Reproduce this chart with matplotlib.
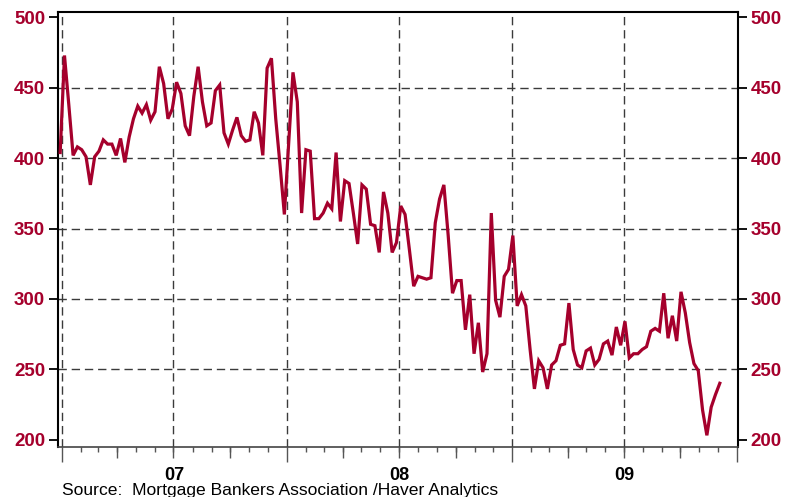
import pandas as pd
import matplotlib
matplotlib.use("Agg")
import matplotlib.pyplot as plt
import matplotlib.dates as mdates
from matplotlib.transforms import blended_transform_factory

# weekly index, Fridays from end of 2006
START_WEEK = "2006-12-29"
purchase_index = [
    404, 473, 438, 402, 408, 406, 401, 381, 401, 405,
    413, 410, 410, 402, 414, 397, 415, 428, 437, 432,
    438, 427, 433, 465, 453, 428, 435, 454, 446, 423,
    416, 444, 465, 440, 423, 425, 448, 452, 418, 410,
    420, 429, 416, 412, 413, 433, 425, 402, 464, 471,
    428, 395, 360, 410, 461, 440, 361, 406, 405, 357,
    357, 361, 368, 364, 404, 355, 384, 382, 361, 339,
    381, 378, 353, 352, 333, 376, 361, 333, 340, 366,
    360, 335, 309, 316, 315, 314, 315, 354, 371, 381,
    345, 304, 313, 313, 278, 303, 261, 283, 248, 261,
    361, 299, 287, 316, 321, 345, 295, 303, 295, 264,
    236, 256, 251, 236, 253, 256, 267, 268, 297, 264,
    253, 251, 263, 265, 253, 257, 268, 270, 260, 280,
    267, 284, 258, 261, 261, 264, 266, 277, 279, 277,
    304, 272, 288, 270, 305, 290, 269, 254, 249, 221,
    203, 223, 232, 240,
]

year_labels = ["07", "08", "09"]
year_label_dates = ["2007-07-02", "2008-07-01", "2009-07-02"]
y_ticks = [200, 250, 300, 350, 400, 450, 500]
grid_levels = [250, 300, 350, 400, 450]
grid_dates = ["2007-01-01", "2007-07-01", "2008-01-01",
              "2008-07-01", "2009-01-01", "2009-07-01"]
SOURCE = "Source:  Mortgage Bankers Association /Haver Analytics"

RED = "#a5002c"
GRID = "#3a3a3a"
FONT = "Liberation Sans"


def main():
    plt.rcParams["font.family"] = FONT
    dates = pd.date_range(START_WEEK, periods=len(purchase_index), freq="7D")

    fig = plt.figure(figsize=(7.85, 4.97), dpi=100)
    ax = fig.add_axes([0.0743, 0.1006, 0.8654, 0.8747])

    for level in grid_levels:
        ax.axhline(level, color=GRID, lw=1.0, dashes=(6, 3.5), zorder=1)
    for d in grid_dates:
        ax.axvline(pd.Timestamp(d), color=GRID, lw=1.0, dashes=(6, 3.5), zorder=1)

    ax.plot(dates, purchase_index, color=RED, lw=2.3, zorder=3,
            solid_joinstyle="miter")

    ax.set_xlim(pd.Timestamp("2006-12-26"), pd.Timestamp("2010-01-02"))
    ax.set_ylim(194.7, 503.7)

    # y axis on both sides, red labels
    ax.set_yticks(y_ticks)
    ax.tick_params(axis="y", which="major", left=True, right=True,
                   labelleft=True, labelright=True, direction="out",
                   length=6.5, width=1.3, color="black", pad=3,
                   labelsize=13.5, labelcolor=RED)
    for lab in ax.get_yticklabels():
        lab.set_fontweight("bold")

    # yearly long ticks, monthly small ticks
    ax.xaxis.set_major_locator(mdates.YearLocator())
    ax.xaxis.set_minor_locator(mdates.MonthLocator())
    ax.xaxis.set_major_formatter(plt.NullFormatter())
    ax.tick_params(axis="x", which="major", direction="out", length=11,
                   width=1.0, color="#555555")
    ax.tick_params(axis="x", which="minor", direction="out", length=3.8,
                   width=1.0, color="#555555")

    # quarterly medium ticks
    sec = ax.secondary_xaxis("bottom")
    sec.xaxis.set_major_locator(mdates.MonthLocator(bymonth=[4, 7, 10]))
    sec.xaxis.set_major_formatter(plt.NullFormatter())
    sec.tick_params(axis="x", direction="out", length=8, width=1.0,
                    color="#555555")
    sec.spines["bottom"].set_visible(False)

    for side in ["left", "right", "top"]:
        ax.spines[side].set_linewidth(1.5)
    ax.spines["bottom"].set_linewidth(1.2)
    ax.spines["bottom"].set_color("#444444")

    trans = blended_transform_factory(ax.transData, ax.transAxes)
    for label, d in zip(year_labels, year_label_dates):
        ax.text(pd.Timestamp(d), -0.075, label, transform=trans,
                ha="center", va="baseline", fontsize=13,
                fontweight="bold", color="black")

    fig.text(0.079, 0.005, SOURCE, ha="left", va="baseline",
             fontsize=12.6, color="black")

    fig.savefig("out.png", dpi=100)
    plt.close(fig)


if __name__ == "__main__":
    main()
